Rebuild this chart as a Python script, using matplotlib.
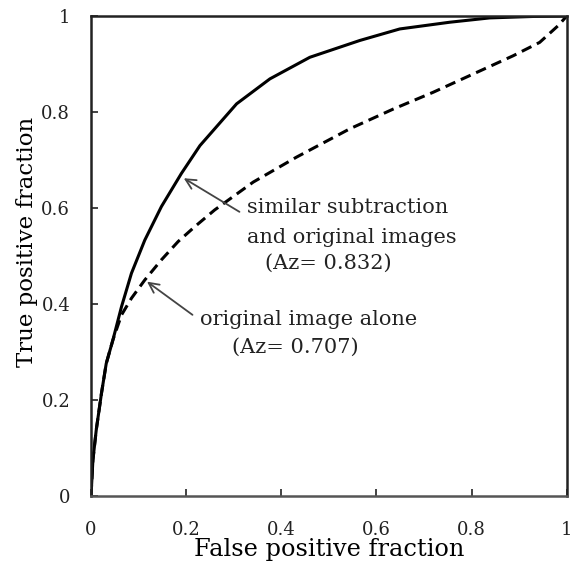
import matplotlib.pyplot as plt

plt.rcParams['font.family'] = 'DejaVu Serif'

# ROC curves
fpf_sub = [0, 0.004, 0.011, 0.022, 0.032, 0.046, 0.064, 0.085, 0.113, 0.148,
           0.19, 0.229, 0.306, 0.376, 0.46, 0.565, 0.649, 0.754, 0.838, 0.929, 1.0]
tpf_sub = [0, 0.075, 0.1375, 0.214, 0.276, 0.325, 0.394, 0.464, 0.533, 0.603,
           0.672, 0.73, 0.817, 0.869, 0.914, 0.949, 0.973, 0.987, 0.996, 0.999, 1.0]

fpf_orig = [0, 0.004, 0.011, 0.022, 0.032, 0.046, 0.064, 0.085, 0.113, 0.148,
            0.183, 0.218, 0.26, 0.341, 0.432, 0.544, 0.635, 0.719, 0.803, 0.887,
            0.943, 0.982, 1.0]
tpf_orig = [0, 0.075, 0.1375, 0.214, 0.276, 0.325, 0.377, 0.412, 0.45, 0.492,
            0.53, 0.561, 0.596, 0.654, 0.706, 0.765, 0.806, 0.841, 0.879, 0.917,
            0.945, 0.98, 1.0]

ticks = [0, 0.2, 0.4, 0.6, 0.8, 1]
tick_labels = ['0', '0.2', '0.4', '0.6', '0.8', '1']

fig = plt.figure(figsize=(5.76, 5.63), dpi=100)
ax = fig.add_axes([0.158, 0.119, 0.826, 0.8526])

ax.plot(fpf_sub, tpf_sub, color='black', lw=2.2, solid_joinstyle='round')
ax.plot(fpf_orig, tpf_orig, color='black', lw=2.2, dashes=(3.5, 2))

ax.set_xlim(0, 1)
ax.set_ylim(0, 1)
ax.set_xticks(ticks)
ax.set_xticklabels(tick_labels)
ax.set_yticks(ticks)
ax.set_yticklabels(tick_labels)
ax.tick_params(direction='in', length=5, width=1.2, labelsize=13, colors='#222222')
ax.tick_params(axis='x', pad=18)
ax.tick_params(axis='y', pad=15)
for s in ax.spines.values():
    s.set_linewidth(1.8)
    s.set_color('#222222')
ax.spines['bottom'].set_color('#555555')

ax.set_xlabel('False positive fraction', fontsize=17.3, labelpad=-1)
ax.set_ylabel('True positive fraction', fontsize=16.5)
ax.yaxis.set_label_coords(-0.112, 0.529)

arrow = dict(arrowstyle='->', color='#444444', lw=1.3, mutation_scale=18)
ax.annotate('', xy=(0.19, 0.665), xytext=(0.317, 0.589), arrowprops=arrow)
ax.annotate('', xy=(0.113, 0.45), xytext=(0.218, 0.374), arrowprops=arrow)

style = dict(fontsize=15, va='center', color='#222222')
ax.text(0.328, 0.6, 'similar subtraction', **style)
ax.text(0.328, 0.5375, 'and original images', **style)
ax.text(0.366, 0.485, '(Az= 0.832)', **style)
ax.text(0.229, 0.367, 'original image alone', **style)
ax.text(0.296, 0.31, '(Az= 0.707)', **style)

fig.savefig('out.png', dpi=100)
